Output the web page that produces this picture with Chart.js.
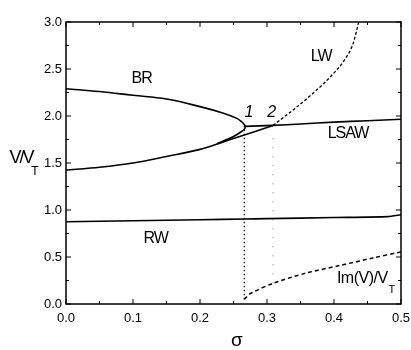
<!DOCTYPE html>
<html>
<head>
<meta charset="utf-8">
<script src="https://cdn.jsdelivr.net/npm/chart.js@4"></script>
<style>
  html, body { margin: 0; padding: 0; background: #fff; }
  #wrap { width: 411px; height: 350px; }
</style>
</head>
<body>
<div id="wrap"><canvas id="dispChart" width="411" height="350"></canvas></div>
<script>
// sigma values and V/V_T
var brSigma = [0, 0.05, 0.1, 0.15, 0.2, 0.235, 0.255, 0.262, 0.266, 0.2675, 0.266, 0.261, 0.252, 0.24, 0.225];
var brValue = [2.29, 2.26, 2.22, 2.18, 2.10, 2.03, 1.975, 1.94, 1.91, 1.885, 1.86, 1.83, 1.79, 1.75, 1.705];

var lowSigma = [0, 0.05, 0.1, 0.15, 0.2, 0.25, 0.28, 0.309];
var lowValue = [1.425, 1.455, 1.50, 1.57, 1.645, 1.76, 1.83, 1.90];

var lwSigma = [0.309, 0.34, 0.37, 0.395, 0.415, 0.428, 0.437];
var lwValue = [1.90, 2.07, 2.25, 2.42, 2.59, 2.76, 3.0];

var lsawSigma = [0.267, 0.309, 0.35, 0.4, 0.45, 0.5];
var lsawValue = [1.89, 1.90, 1.915, 1.935, 1.95, 1.965];

var rwSigma = [0, 0.1, 0.2, 0.267, 0.3, 0.4, 0.48, 0.5];
var rwValue = [0.875, 0.885, 0.897, 0.904, 0.908, 0.92, 0.93, 0.95];

var imSigma = [0.266, 0.275, 0.309, 0.359, 0.409, 0.458, 0.5];
var imValue = [0.05, 0.11, 0.22, 0.33, 0.41, 0.49, 0.555];

// vertical guides at the two critical points
var guide1Sigma = [0.266, 0.266];
var guide1Value = [0.05, 1.89];
var guide2Sigma = [0.309, 0.309];
var guide2Value = [0.22, 1.77];

var xTicks = [0, 0.1, 0.2, 0.3, 0.4, 0.5];
var yTicks = [0, 0.5, 1.0, 1.5, 2.0, 2.5, 3.0];

var curveLabels = [
  { text: "BR", x: 0.113, y: 2.40 },
  { text: "LW", x: 0.381, y: 2.63 },
  { text: "LSAW", x: 0.421, y: 1.81 },
  { text: "RW", x: 0.134, y: 0.70 }
];
var pointLabels = [
  { text: "1", x: 0.273, y: 2.04 },
  { text: "2", x: 0.307, y: 2.04 }
];

function pts(xs, ys) {
  var out = [];
  for (var i = 0; i < xs.length; i++) out.push({ x: xs[i], y: ys[i] });
  return out;
}

function line(xs, ys, dash, width, color, tension) {
  return {
    data: pts(xs, ys),
    showLine: true,
    borderColor: color || '#000',
    borderWidth: width || 1.5,
    borderDash: dash || [],
    pointRadius: 0,
    tension: tension === undefined ? 0.3 : tension,
    fill: false
  };
}

var frame = {
  id: 'frame',
  afterDraw: function (chart) {
    var c = chart.ctx, a = chart.chartArea;
    var xs = chart.scales.x, ys = chart.scales.y;
    c.save();
    c.strokeStyle = '#000';
    c.lineWidth = 1.5;
    c.strokeRect(a.left, a.top, a.right - a.left, a.bottom - a.top);
    c.lineWidth = 1;
    c.beginPath();
    for (var i = 0; i <= 10; i++) {
      var v = i * 0.05;
      var px = xs.getPixelForValue(v);
      var len = (i % 2 === 0) ? 5 : 3;
      c.moveTo(px, a.bottom); c.lineTo(px, a.bottom - len);
      c.moveTo(px, a.top); c.lineTo(px, a.top + len);
    }
    for (var j = 0; j <= 12; j++) {
      var w = j * 0.25;
      var py = ys.getPixelForValue(w);
      var l2 = (j % 2 === 0) ? 5 : 3;
      c.moveTo(a.left, py); c.lineTo(a.left + l2, py);
      c.moveTo(a.right, py); c.lineTo(a.right - l2, py);
    }
    c.stroke();

    c.fillStyle = '#000';
    c.textAlign = 'center';
    c.textBaseline = 'middle';
    c.font = '16px "Liberation Sans", Arial, sans-serif';
    c.letterSpacing = '-1px';
    curveLabels.forEach(function (t) {
      c.fillText(t.text, xs.getPixelForValue(t.x), ys.getPixelForValue(t.y));
    });
    c.font = 'italic 16px "Liberation Sans", Arial, sans-serif';
    c.letterSpacing = '0px';
    pointLabels.forEach(function (t) {
      c.fillText(t.text, xs.getPixelForValue(t.x), ys.getPixelForValue(t.y));
    });

    // Im(V)/V_T label
    c.font = '16px "Liberation Sans", Arial, sans-serif';
    c.letterSpacing = '-0.5px';
    c.textAlign = 'right';
    var ix = xs.getPixelForValue(0.48), iy = ys.getPixelForValue(0.265);
    c.fillText('Im(V)/V', ix, iy);
    c.font = '11px "Liberation Sans", Arial, sans-serif';
    c.textAlign = 'left';
    c.fillText('T', ix + 1, iy + 11);

    // y axis title V/V_T
    c.font = '18px "Liberation Sans", Arial, sans-serif';
    c.letterSpacing = '-2px';
    c.textAlign = 'center';
    var yc = (a.top + a.bottom) / 2 - 5;
    c.fillText('V/V', 21, yc);
    c.font = '12px "Liberation Sans", Arial, sans-serif';
    c.letterSpacing = '0px';
    c.fillText('T', 35, yc + 14);

    // x axis title
    c.font = '19px "Liberation Sans", Arial, sans-serif';
    c.fillText('\u03c3', xs.getPixelForValue(0.255), 341);
    c.restore();
  }
};

var ctx = document.getElementById('dispChart').getContext('2d');
var brSet = line(brSigma, brValue, [], 1.6, '#000', 0.4);
var lwSet = line(lwSigma, lwValue, [3, 2], 1.3);
lwSet.cubicInterpolationMode = 'monotone';
var dispChart = new Chart(ctx, {
  type: 'scatter',
  data: {
    datasets: [
      brSet,
      line(lowSigma, lowValue, [], 1.6),
      lwSet,
      line(lsawSigma, lsawValue, [], 1.6, '#000', 0.2),
      line(rwSigma, rwValue, [], 1.6, '#000', 0.2),
      line(imSigma, imValue, [4, 3], 1.5),
      line(guide1Sigma, guide1Value, [1.5, 2.5], 1.2, '#000', 0),
      line(guide2Sigma, guide2Value, [1, 8], 1, '#777', 0)
    ]
  },
  options: {
    responsive: false,
    animation: false,
    events: [],
    layout: { padding: { left: 0, top: 22, right: 0, bottom: 0 } },
    plugins: { legend: { display: false }, tooltip: { enabled: false } },
    scales: {
      x: {
        type: 'linear',
        min: 0, max: 0.5,
        afterBuildTicks: function (s) { s.ticks = xTicks.map(function (v) { return { value: v }; }); },
        afterFit: function (s) { s.height = 46; s.paddingRight = 10; s.paddingLeft = 0; },
        grid: { display: false, drawTicks: false },
        border: { display: false },
        ticks: {
          color: '#000',
          padding: 7,
          maxRotation: 0,
          font: { family: '"Liberation Sans", Arial, sans-serif', size: 13 },
          callback: function (v) { return Number(v).toFixed(1); }
        }
      },
      y: {
        type: 'linear',
        min: 0, max: 3,
        afterBuildTicks: function (s) { s.ticks = yTicks.map(function (v) { return { value: v }; }); },
        afterFit: function (s) { s.width = 66; s.paddingTop = 0; s.paddingBottom = 0; },
        grid: { display: false, drawTicks: false },
        border: { display: false },
        ticks: {
          color: '#000',
          padding: 4,
          font: { family: '"Liberation Sans", Arial, sans-serif', size: 13 },
          callback: function (v) { return Number(v).toFixed(1); }
        }
      }
    }
  },
  plugins: [frame]
});
</script>
</body>
</html>
